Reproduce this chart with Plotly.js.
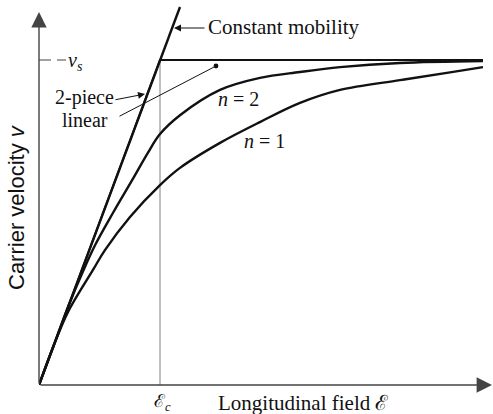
<!DOCTYPE html>
<html>
<head>
<meta charset="utf-8">
<script src="https://cdn.plot.ly/plotly-3.0.1.min.js"></script>
<style>html,body{margin:0;padding:0;background:#fff;}#chart{width:493px;height:414px;}</style>
</head>
<body>
<div id="chart"></div>
<script>
// ---- data (field in units of Ec, velocity in units of vs) ----
const Ec = 1;
const vs = 1;
const fieldMax = 3.669;
const mobilityField = [0, 1.165];
const mobilityVel = [0, 1.163];
const twoPieceField = [0, Ec, fieldMax];
const twoPieceVel = [0, vs, vs];
const fieldN2 = [0, 0.12, 0.24, 0.364, 0.463, 0.612, 0.777, 0.901, 1.0, 1.165, 1.496, 1.826, 2.157, 2.488, 2.983, 3.669];
const velN2 = [0, 0.12, 0.24, 0.35, 0.43, 0.53, 0.635, 0.715, 0.772, 0.83, 0.908, 0.945, 0.963, 0.978, 0.991, 0.997];
const fieldN1 = [0, 0.12, 0.24, 0.446, 0.545, 0.752, 1.0, 1.165, 1.496, 1.826, 2.157, 2.488, 2.983, 3.397, 3.669];
const velN1 = [0, 0.12, 0.225, 0.354, 0.415, 0.517, 0.615, 0.668, 0.745, 0.809, 0.868, 0.908, 0.938, 0.962, 0.978];

// ---- layout helpers (pixel -> axis / paper units for label placement) ----
const X0 = 39, Y0 = 385, SX = 121, SY = 325, PW = 454, PH = 380;
const X = p => (p - X0) / SX;
const Y = p => (Y0 - p) / SY;
const PX = p => (p - X0) / PW;
const PY = p => (Y0 - p) / PH;

const serif = '"Liberation Serif", "Times New Roman", serif';
const sans = '"Liberation Sans", Arial, sans-serif';
const ink = '#111';

const traces = [
  {x: [Ec, Ec], y: [0, vs], mode: 'lines', line: {color: '#808080', width: 1}, hoverinfo: 'skip'},
  {x: mobilityField, y: mobilityVel, mode: 'lines', line: {color: ink, width: 2.4}, hoverinfo: 'skip'},
  {x: twoPieceField, y: twoPieceVel, mode: 'lines', line: {color: ink, width: 2}, hoverinfo: 'skip'},
  {x: fieldN2, y: velN2, mode: 'lines', line: {color: ink, width: 2.4, shape: 'spline', smoothing: 1}, hoverinfo: 'skip'},
  {x: fieldN1, y: velN1, mode: 'lines', line: {color: ink, width: 2.4, shape: 'spline', smoothing: 1}, hoverinfo: 'skip'}
];

function arrow(hx, hy, tx, ty, head, size, width, color) {
  return {x: hx, y: hy, ax: tx, ay: ty, xref: 'x', yref: 'y', axref: 'x', ayref: 'y',
    text: '', showarrow: true, arrowhead: head, arrowsize: size, arrowwidth: width,
    arrowcolor: color, standoff: 0, startstandoff: 0};
}
function label(px, py, txt, anchor, size, family, angle, yanchor) {
  return {x: PX(px), y: PY(py), xref: 'paper', yref: 'paper', text: txt, showarrow: false,
    xanchor: anchor, yanchor: yanchor || 'middle', textangle: angle || 0, borderpad: 0,
    font: {family: family || serif, size: size || 20, color: ink}};
}

const annotations = [
  // axes
  arrow(0, Y(12), 0, 0, 2, 2.2, 1.4, '#444'),
  arrow(X(492), 0, 0, 0, 2, 2.2, 1.4, '#444'),
  // pointers
  arrow(X(174), Y(28), X(206), Y(28), 2, 1.4, 1, ink),
  arrow(X(145), Y(94), X(114), Y(100), 2, 1.4, 1, ink),
  arrow(X(216), Y(66), X(118), Y(117), 6, 1.2, 1, ink),
  // texts
  label(207, 27, 'Constant mobility', 'left', 21),
  label(84, 110, '2-piece', 'center', 20, null, 0, 'bottom'),
  label(85, 108, 'linear', 'center', 20, null, 0, 'top'),
  label(67, 61, '<i>v<sub>s</sub></i>', 'left', 20),
  label(217, 99, '<i>n</i> = 2', 'left', 20),
  label(243, 141, '<i>n</i> = 1', 'left', 20),
  label(162, 402, 'ℰ<sub><i>c</i></sub>', 'center', 18),
  label(217, 403, 'Longitudinal field ℰ', 'left', 21),
  label(16, 207, 'Carrier velocity <i>v</i>', 'center', 22, sans, -90)
];

const shapes = [
  {type: 'line', xref: 'x', yref: 'y', x0: 0, x1: X(66), y0: vs, y1: vs,
    line: {color: '#444', width: 1, dash: '12px,6px'}}
];

const layout = {
  width: 493, height: 414,
  margin: {l: 39, r: 0, t: 5, b: 29, pad: 0},
  paper_bgcolor: '#fff', plot_bgcolor: '#fff',
  showlegend: false,
  xaxis: {range: [0, PW / SX], showgrid: false, zeroline: false, showticklabels: false, ticks: '', showline: false, fixedrange: true},
  yaxis: {range: [0, PH / SY], showgrid: false, zeroline: false, showticklabels: false, ticks: '', showline: false, fixedrange: true},
  annotations: annotations,
  shapes: shapes
};

Plotly.newPlot('chart', traces, layout, {displayModeBar: false, staticPlot: true});
</script>
</body>
</html>
